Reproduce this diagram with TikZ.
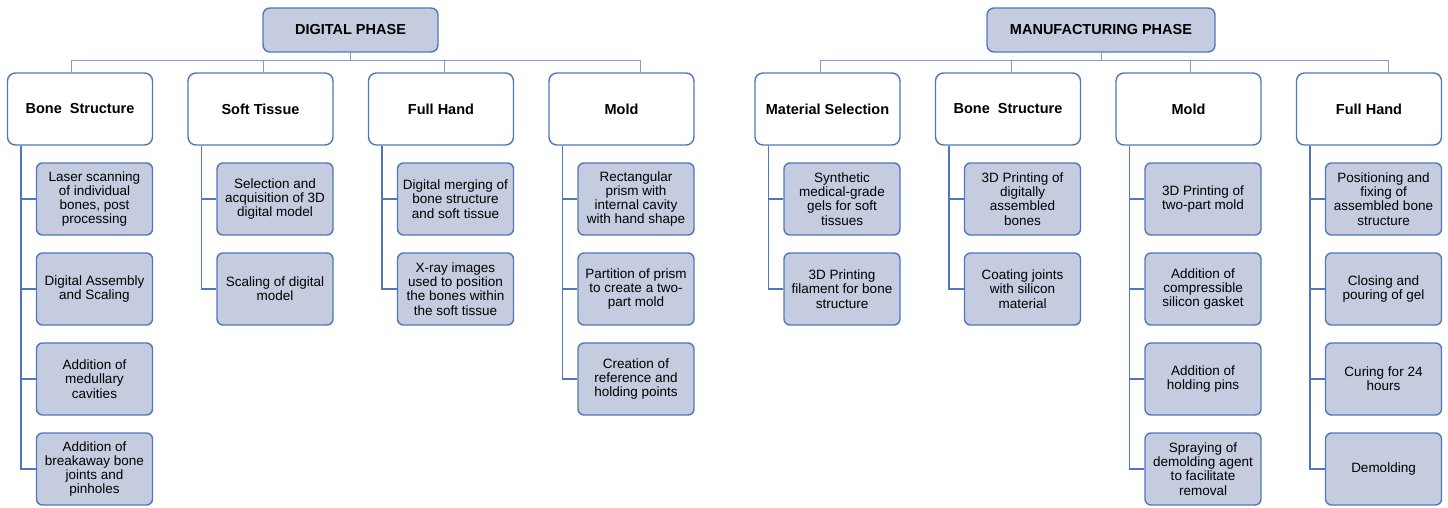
\documentclass[tikz,border=0pt]{standalone}
\usepackage{fontspec}
\setmainfont{Liberation Sans}
\usetikzlibrary{positioning}
\definecolor{boxfill}{RGB}{197,204,223}
\definecolor{boxline}{RGB}{79,119,190}
\definecolor{busline}{RGB}{128,157,210}

\tikzset{
  phase/.style={draw=boxline,line width=1.4pt,fill=boxfill,rounded corners=7pt,
    minimum height=44pt,inner sep=0pt,font=\fontsize{14.5}{16}\selectfont\bfseries},
  group/.style={draw=boxline,line width=1.4pt,fill=white,rounded corners=8pt,
    minimum width=145pt,minimum height=72pt,inner sep=0pt,
    font=\fontsize{14.5}{16}\selectfont\bfseries},
  task/.style={draw=boxline,line width=1.4pt,fill=boxfill,rounded corners=6pt,
    minimum width=116pt,minimum height=72pt,inner sep=0pt,align=center,
    font=\fontsize{13.5}{14.3}\selectfont},
  bus/.style={draw=busline,line width=1pt},
  link/.style={draw=boxline,line width=1.4pt}
}

\begin{document}
\begin{tikzpicture}[x=1pt,y=-1pt,node distance=90pt and 180.5pt,on grid]
\useasboundingbox (0,0) rectangle (1448,508);

% phases
\node[phase,minimum width=175pt] (dp) at (350.5,30) {DIGITAL PHASE};
\node[phase,minimum width=228pt] (mp) at (1101,30) {MANUFACTURING PHASE};

% digital groups
\node[group] (bs) at (80,109) {Bone\ \ Structure};
\node[group] (st) [right=of bs] {Soft Tissue};
\node[group] (fh) [right=of st] {Full Hand};
\node[group] (md) [right=of fh] {Mold};

% manufacturing groups
\node[group] (ms) at (827.5,109) {Material Selection};
\node[group] (bs2) [right=of ms] {Bone\ \ Structure};
\node[group] (md2) [right=of bs2] {Mold};
\node[group] (fh2) [right=of md2] {Full Hand};

\foreach \n/\dx in {bs/-9,st/3,fh/3,md/19}
  \draw[bus] (dp.south) |- ([xshift=\dx pt,yshift=12pt]\n.north) -- ([xshift=\dx pt]\n.north);
\foreach \n/\dx in {ms/-7,bs2/3,md2/2,fh2/19}
  \draw[bus] (mp.south) |- ([xshift=\dx pt,yshift=12pt]\n.north) -- ([xshift=\dx pt]\n.north);

% digital tasks
\node[task] (bs-a) [below=of bs,xshift=14.5pt] {Laser scanning\\of individual\\bones, post\\processing};
\node[task] (bs-b) [below=of bs-a] {Digital Assembly\\and Scaling};
\node[task] (bs-c) [below=of bs-b] {Addition of\\medullary\\cavities};
\node[task] (bs-d) [below=of bs-c] {Addition of\\breakaway bone\\joints and\\pinholes};

\node[task] (st-a) [below=of st,xshift=14.5pt] {Selection and\\acquisition of 3D\\digital model};
\node[task] (st-b) [below=of st-a] {Scaling of digital\\model};

\node[task] (fh-a) [below=of fh,xshift=14.5pt] {Digital merging of\\bone structure\\and soft tissue};
\node[task] (fh-b) [below=of fh-a] {X-ray images\\used to position\\the bones within\\the soft tissue};

\node[task] (md-a) [below=of md,xshift=14.5pt] {Rectangular\\prism with\\internal cavity\\with hand shape};
\node[task] (md-b) [below=of md-a] {Partition of prism\\to create a two-\\part mold};
\node[task] (md-c) [below=of md-b] {Creation of\\reference and\\holding points};

% manufacturing tasks
\node[task] (ms-a) [below=of ms,xshift=14.5pt] {Synthetic\\medical-grade\\gels for soft\\tissues};
\node[task] (ms-b) [below=of ms-a] {3D Printing\\filament for bone\\structure};

\node[task] (bs2-a) [below=of bs2,xshift=14.5pt] {3D Printing of\\digitally\\assembled\\bones};
\node[task] (bs2-b) [below=of bs2-a] {Coating joints\\with silicon\\material};

\node[task] (md2-a) [below=of md2,xshift=14.5pt] {3D Printing of\\two-part mold};
\node[task] (md2-b) [below=of md2-a] {Addition of\\compressible\\silicon gasket};
\node[task] (md2-c) [below=of md2-b] {Addition of\\holding pins};
\node[task] (md2-d) [below=of md2-c] {Spraying of\\demolding agent\\to facilitate\\removal};

\node[task] (fh2-a) [below=of fh2,xshift=14.5pt] {Positioning and\\fixing of\\assembled bone\\structure};
\node[task] (fh2-b) [below=of fh2-a] {Closing and\\pouring of gel};
\node[task] (fh2-c) [below=of fh2-b] {Curing for 24\\hours};
\node[task] (fh2-d) [below=of fh2-c] {Demolding};

% connectors
\foreach \g/\list in {bs/{a,b,c,d},st/{a,b},fh/{a,b},md/{a,b,c},
                      ms/{a,b},bs2/{a,b},md2/{a,b,c,d},fh2/{a,b,c,d}}
  \foreach \t in \list
    \draw[link] ([xshift=14pt]\g.south west) |- (\g-\t.west);
\end{tikzpicture}
\end{document}
